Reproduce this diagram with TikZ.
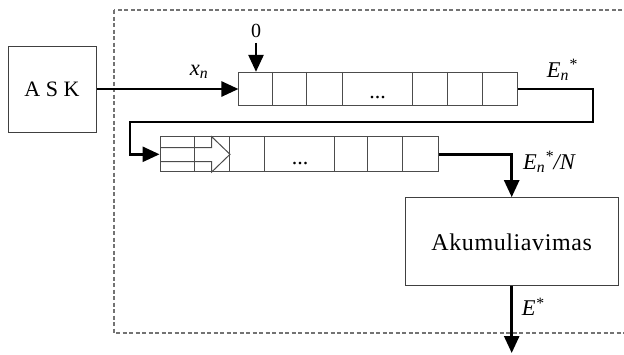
\documentclass[tikz,border=0pt]{standalone}
\usepackage{fontspec}
\setmainfont{Liberation Serif}
\newfontfamily\spacedfont[LetterSpace=2.5]{Liberation Serif}
\usetikzlibrary{arrows.meta,calc,positioning}

\begin{document}
\begin{tikzpicture}[x=1pt,y=-1pt,
  box/.style={draw=black!75,line width=1pt,inner sep=0pt},
  reg/.style={draw=black!70,line width=1pt,inner sep=0pt},
  cell/.style={draw=black!70,line width=1pt},
  flow/.style={line width=2.6pt,-{Triangle[length=17pt,width=15pt]}},
  lbl/.style={font=\fontsize{22.5}{26}\selectfont\itshape,inner sep=0pt},
  frame/.style={draw=black!55,line width=1.2pt,dash pattern=on 4pt off 2.5pt}]
\useasboundingbox (0,0) rectangle (624,354);
\draw[frame] (114,10) rectangle (630,333);
\node[box,minimum width=88pt,minimum height=86pt,font=\fontsize{22}{26}\selectfont] (ask) at (52,89) {A S K};
\node[reg,minimum width=278.7pt,minimum height=33.3pt] (reg1) at (378.3,89) {};
\foreach \dx in {34,68,103.7,173.7,208.7,243.7}
  \draw[cell] ([xshift=\dx pt]reg1.north west) -- ([xshift=\dx pt]reg1.south west);
\node[font=\fontsize{22}{26}\selectfont,anchor=base] (dotsA) at (377.7,98.5) {...};
\node[reg,minimum width=278.3pt,minimum height=35.3pt] (reg2) at (299.2,154.3) {};
\foreach \dx in {35,70,105,175,208.3,243.3}
  \draw[cell] ([xshift=\dx pt]reg2.north west) -- ([xshift=\dx pt]reg2.south west);
\draw[cell] (160,147.7) -- (211.7,147.7) -- (211.7,136.7) -- (230,154.3) -- (211.7,172) -- (211.7,161.7) -- (160,161.7);
\node[font=\fontsize{22}{26}\selectfont,anchor=base] (dotsB) at (300,164.5) {...};
\node[box,minimum width=213.3pt,minimum height=88.3pt,font=\spacedfont\fontsize{24}{28}\selectfont] (akum) at (511.7,241.8) {Akumuliavimas};
\node[font=\fontsize{20}{24}\selectfont,inner sep=0pt] (zero) at (256,30.8) {0};
\coordinate (turnA) at (593,122);
\coordinate (turnB) at (130,122);
\coordinate (out) at (511.7,353);
\draw[flow] (ask.east) -- (reg1.west);
\draw[flow] ([yshift=-5pt]zero.south) -- (zero.south |- reg1.north);
\draw[flow] (reg1.east) -| (turnA) -- (turnB) |- (reg2.west);
\draw[flow] (reg2.east) -| (akum.north);
\draw[flow] (akum.south) -- (out);
\node[lbl] (xn) at (199,72) {x\textsubscript{n}};
\node[lbl] (en) at (562,70) {E\textsubscript{n}\textsuperscript{*}};
\node[lbl] (enN) at (549,162) {E\textsubscript{n}\textsuperscript{*}/N};
\node[lbl] (es) at (533,307) {E\textsuperscript{*}};
\end{tikzpicture}
\end{document}
